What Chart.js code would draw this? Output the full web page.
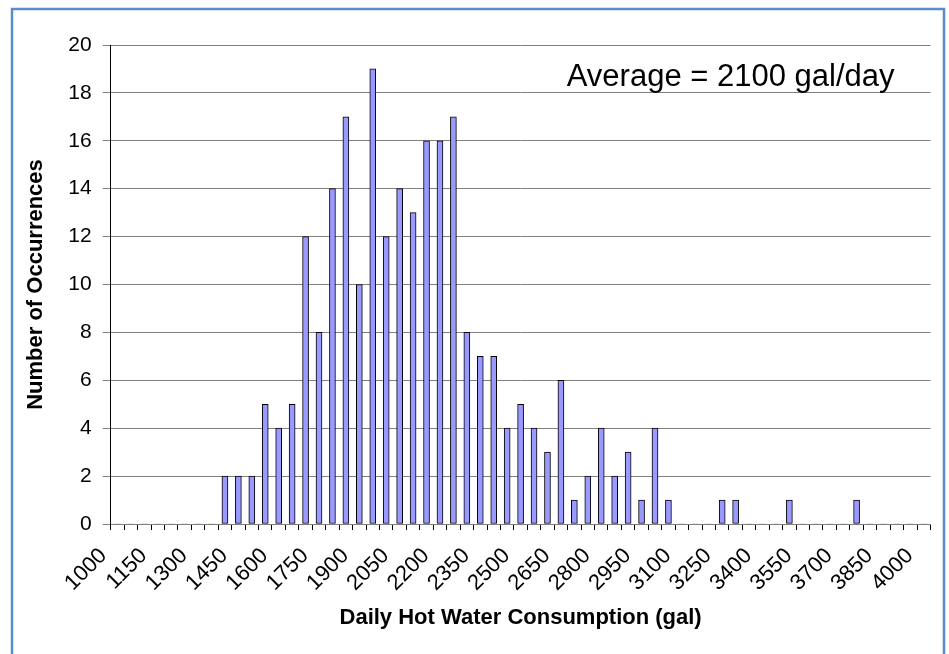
<!DOCTYPE html>
<html>
<head>
<meta charset="utf-8">
<script src="https://cdn.jsdelivr.net/npm/chart.js@4/dist/chart.umd.min.js"></script>
<style>
  html, body { margin: 0; padding: 0; background: #fff; }
  #wrap { width: 949px; height: 654px; }
</style>
</head>
<body>
<div id="wrap"><canvas id="histo" width="949" height="654"></canvas></div>
<script>
// bins of daily hot water use (gal), 50 gal wide
const binLabels = [
  '1000', '1050', '1100', '1150', '1200', '1250', '1300', '1350', '1400', '1450',
  '1500', '1550', '1600', '1650', '1700', '1750', '1800', '1850', '1900', '1950',
  '2000', '2050', '2100', '2150', '2200', '2250', '2300', '2350', '2400', '2450',
  '2500', '2550', '2600', '2650', '2700', '2750', '2800', '2850', '2900', '2950',
  '3000', '3050', '3100', '3150', '3200', '3250', '3300', '3350', '3400', '3450',
  '3500', '3550', '3600', '3650', '3700', '3750', '3800', '3850', '3900', '3950',
  '4000'
];
const occurrences = [
  0, 0, 0, 0, 0, 0, 0, 0, 2, 2,
  2, 5, 4, 5, 12, 8, 14, 17, 10, 19,
  12, 14, 13, 16, 16, 17, 8, 7, 7, 4,
  5, 4, 3, 6, 1, 2, 4, 2, 3, 1,
  4, 1, 0, 0, 0, 1, 1, 0, 0, 0,
  1, 0, 0, 0, 0, 1, 0, 0, 0, 0,
  0
];
const labelEvery = 3;
const yMax = 20;
const yStep = 2;
const avgNote = 'Average = 2100 gal/day';

const FONT = '"Liberation Sans", Arial, sans-serif';

const framePlugin = {
  id: 'frame',
  beforeDraw(chart) {
    const c = chart.ctx;
    c.save();
    c.fillStyle = '#fff';
    c.fillRect(0, 0, chart.width, chart.height);
    c.restore();
  },
  afterDraw(chart) {
    const c = chart.ctx;
    const area = chart.chartArea;
    c.save();
    c.strokeStyle = '#5b8bc8';
    c.lineWidth = 2.5;
    c.strokeRect(12, 9, 932, 700);
    c.font = '31px ' + FONT;
    c.fillStyle = '#000';
    c.textAlign = 'right';
    c.textBaseline = 'alphabetic';
    c.fillText(avgNote, area.right - 36, 86);
    c.restore();
  }
};

new Chart(document.getElementById('histo'), {
  type: 'bar',
  data: {
    labels: binLabels,
    datasets: [{
      data: occurrences,
      backgroundColor: '#9999ff',
      borderColor: '#000',
      borderWidth: ctx => (ctx.raw ? 1 : 0),
      borderSkipped: false,
      barThickness: 6
    }]
  },
  options: {
    responsive: false,
    animation: false,
    devicePixelRatio: 1,
    layout: { padding: { left: 19, top: 45, right: 18.5, bottom: 19 } },
    plugins: {
      legend: { display: false },
      tooltip: { enabled: false }
    },
    scales: {
      x: {
        offset: true,
        grid: { offset: true, drawOnChartArea: false, tickLength: 6, color: '#000' },
        border: { color: '#808080' },
        ticks: {
          autoSkip: false,
          minRotation: 45,
          maxRotation: 45,
          padding: 13,
          labelOffset: -14,
          color: '#000',
          font: { family: FONT, size: 22 },
          callback: (v, i) => (i % labelEvery === 0 ? binLabels[i] : '')
        },
        title: {
          display: true,
          text: 'Daily Hot Water Consumption (gal)',
          color: '#000',
          font: { family: FONT, size: 22, weight: 'bold' },
          padding: { top: 4, bottom: 4 }
        },
        afterFit: s => {
          s.height = 111;
          s.paddingLeft = 0;
          s.paddingRight = 0;
        }
      },
      y: {
        min: 0,
        max: yMax,
        ticks: {
          stepSize: yStep,
          padding: 11,
          color: '#000',
          font: { family: FONT, size: 21 }
        },
        grid: { color: '#808080', tickLength: 8 },
        border: { color: '#000' },
        title: {
          display: true,
          text: 'Number of Occurrences',
          color: '#000',
          font: { family: FONT, size: 22, weight: 'bold' },
          padding: { top: 4, bottom: 4 }
        },
        afterFit: s => { s.width = 91.7; }
      }
    }
  },
  plugins: [framePlugin]
});
</script>
</body>
</html>
